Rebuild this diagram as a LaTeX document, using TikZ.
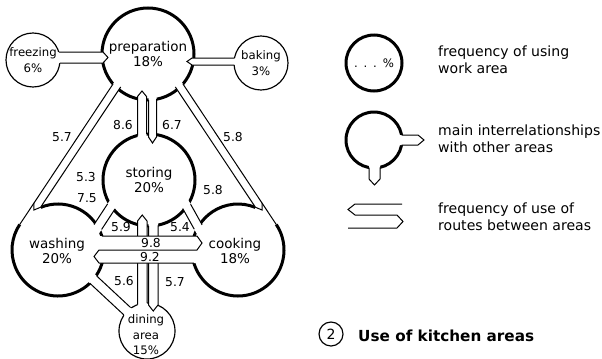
\documentclass[tikz,border=0pt]{standalone}
\usepackage{fontspec}
\setmainfont{DejaVu Sans}
\usetikzlibrary{calc}

\begin{document}
\begin{tikzpicture}[
      x=0.3mm, y=-0.3mm,
      area/.style={circle, draw, line width=0.9mm, minimum size=27.6mm, inner sep=0pt, align=center, font=\fontsize{11.5}{13.6}\selectfont},
      annex/.style={circle, draw, line width=0.35mm, minimum size=16.2mm, inner sep=0pt, align=center},
      lab/.style={align=center, inner sep=0pt, font=\fontsize{11.5}{13.6}\selectfont},
      small/.style={align=center, inner sep=0pt, font=\fontsize{10}{13.2}\selectfont},
      num/.style={inner sep=0pt, font=\fontsize{10.5}{12}\selectfont},
      key/.style={anchor=west, align=left, inner sep=0pt, font=\fontsize{12}{14.5}\selectfont},
      rim/.style={line width=0.9mm},
      route/.style={line width=0.3mm, line join=miter},
      gap/.style={fill=white}
  ]
    \useasboundingbox (0,0) rectangle (602,358);

    % work areas
    \node[area] (prep) at (148,54) {preparation\\18\%};
    \node[area] (store) at (149,180) {storing\\20\%};
    \node[annex] (freeze) at (33,60) {};
    \node[annex] (bake) at (261,63) {};
    \node[annex, minimum size=16.8mm] (dine) at (147,331) {};
    \coordinate (washc) at (58,250);
    \coordinate (cookc) at (238,250);
    \draw[rim] ($(washc)+(248:46)$) arc[start angle=248, end angle=573.7, radius=46];
    \draw[rim] ($(cookc)+(326.3:46)$) arc[start angle=326.3, end angle=652, radius=46];

    % preparation - washing / cooking
    \coordinate (pwA) at ($(prep)+(139.4:46)$);
    \coordinate (pwT) at ($(washc)+(213.7:46)$);
    \coordinate (pwB) at ($(pwA)+(123.65:142.8)$);
    \coordinate (pwC) at ($(pwB)+(33.65:8)$);
    \coordinate (pwP) at ($(pwB)+(33.65:4)+(123.65:6)$);
    \coordinate (pcA) at ($(prep)+(40.6:46)$);
    \coordinate (pcT) at ($(cookc)+(326.3:46)$);
    \coordinate (pcB) at ($(pcA)+(56.35:142.8)$);
    \coordinate (pcC) at ($(pcB)+(146.35:8)$);
    \coordinate (pcP) at ($(pcB)+(146.35:4)+(56.35:6)$);
    \fill[gap] ($(pwA)+(303.65:6)$) -- ($(pwA)+(303.65:6)+(33.65:8)$) -- (pwC) -- (pwP) -- (pwB) -- cycle;
    \fill[gap] ($(pcA)+(236.35:6)$) -- ($(pcA)+(236.35:6)+(146.35:8)$) -- (pcC) -- (pcP) -- (pcB) -- cycle;
    \draw[route] (pwA) -- (pwT);
    \draw[route] ($(pwA)+(33.65:8)+(303.65:1.7)$) -- (pwC) -- (pwP) -- (pwB);
    \draw[route] (pcA) -- (pcT);
    \draw[route] ($(pcA)+(146.35:8)+(236.35:1.7)$) -- (pcC) -- (pcP) -- (pcB);

    % freezing, baking - preparation
    \fill[gap] (52,52) -- (103,52) -- (108,57.5) -- (103,63) -- (52,63) -- cycle;
    \draw[route] (58.8,52) -- (103,52) -- (108,57.5) -- (103,63) -- (59.8,63);
    \fill[gap] (240,58) -- (192,58) -- (187,61.5) -- (192,65) -- (240,65) -- cycle;
    \draw[route] (234.6,58) -- (192,58) -- (187,61.5) -- (192,65) -- (234.3,65);

    % preparation - storing
    \fill[gap] (137.5,140) -- (137.5,96.5) -- (142,91) -- (146.5,96.5) -- (146.5,140) -- cycle;
    \draw[route] (137.5,135.5) -- (137.5,96.5) -- (142,91) -- (146.5,96.5) -- (146.5,134.2);
    \fill[gap] (148.5,95) -- (148.5,137) -- (152.5,143) -- (156.5,137) -- (156.5,95) -- cycle;
    \draw[route] (148.5,100) -- (148.5,137) -- (152.5,143) -- (156.5,137) -- (156.5,99.2);

    % storing - washing / cooking
    \coordinate (swS) at ($(store)+(145:46)$);
    \coordinate (swW) at ($(washc)+(330:46)$);
    \fill[gap] ($(swS)+(33.2:4.5)+(303.2:5)$) -- ($(swS)+(213.2:4.5)+(303.2:5)$) -- ($(swW)+(213.2:4.5)+(123.2:5)$) -- ($(swW)+(33.2:4.5)+(123.2:5)$) -- cycle;
    \draw[route] ($(swS)+(33.2:4.5)$) -- ($(swW)+(33.2:4.5)$);
    \draw[route] ($(swS)+(213.2:4.5)$) -- ($(swW)+(213.2:4.5)$);
    \coordinate (scS) at ($(store)+(35:46)$);
    \coordinate (scK) at ($(cookc)+(210:46)$);
    \fill[gap] ($(scS)+(150.8:4.5)+(240.8:5)$) -- ($(scS)+(330.8:4.5)+(240.8:5)$) -- ($(scK)+(330.8:4.5)+(60.8:5)$) -- ($(scK)+(150.8:4.5)+(60.8:5)$) -- cycle;
    \draw[route] ($(scS)+(150.8:4.5)$) -- ($(scK)+(150.8:4.5)$);
    \draw[route] ($(scS)+(330.8:4.5)$) -- ($(scK)+(330.8:4.5)$);

    % storing - dining area
    \fill[gap] (137.5,310) -- (137.5,221) -- (142.25,215) -- (147,221) -- (147,310) -- cycle;
    \draw[route] (137.5,304.7) -- (137.5,221) -- (142.25,215) -- (147,221) -- (147,303);
    \fill[gap] (148.5,220) -- (148.5,305) -- (153.25,311) -- (158,305) -- (158,220) -- cycle;
    \draw[route] (148.5,226) -- (148.5,305) -- (153.25,311) -- (158,305) -- (158,225.3);

    % washing - dining area
    \coordinate (wdW) at ($(washc)+(40:46)$);
    \coordinate (wdD) at ($(dine)+(225:28)$);
    \fill[gap] ($(wdW)+(132.9:5)+(222.9:5)$) -- ($(wdW)+(312.9:5)+(222.9:5)$) -- ($(wdD)+(312.9:5)+(42.9:5)$) -- ($(wdD)+(132.9:5)+(42.9:5)$) -- cycle;
    \draw[route] ($(wdW)+(132.9:5)$) -- ($(wdD)+(132.9:5)$);
    \draw[route] ($(wdW)+(312.9:5)$) -- ($(wdD)+(312.9:5)$);

    % washing - cooking
    \fill[gap] (96,236) -- (197,236) -- (202,243) -- (197,250) -- (96,250) -- cycle;
    \fill[gap] (99,250) -- (94,256.5) -- (99,263) -- (200,263) -- (200,250) -- cycle;
    \draw[route] (101.8,236) -- (197,236) -- (202,243) -- (197,250) -- (99,250) -- (94,256.5) -- (99,263) -- (193.9,263);

    % texts of the areas
    \node[lab] (wash) at (57,251) {washing\\20\%};
    \node[lab] (cook) at (235,251) {cooking\\18\%};
    \node[small] at (freeze) {freezing\\6\%};
    \node[small] at (bake) {baking\\3\%};
    \node[small] (dinetext) at (146,335) {dining\\area\\15\%};

    % route frequencies
    \node[num] (r1) at (62,137) {5.7};
    \node[num] (r2) at (123,125) {8.6};
    \node[num] (r3) at (172,125) {6.7};
    \node[num] (r4) at (233,137) {5.8};
    \node[num] (r5) at (86,177) {5.3};
    \node[num] (r6) at (87,198) {7.5};
    \node[num] (r7) at (213,190) {5.8};
    \node[num] (r8) at (121,227) {5.9};
    \node[num] (r9) at (180,227) {5.4};
    \node[num] (r10) at (151,243) {9.8};
    \node[num] (r11) at (150,257) {9.2};
    \node[num] (r12) at (124,281) {5.6};
    \node[num] (r13) at (175,282) {5.7};

    % key
    \node[area, minimum size=16.8mm, font=\fontsize{10}{12}\selectfont] (keyarea) at (374,63) {.\enspace.\enspace.\enspace\%};
    \node[area, minimum size=16.8mm] (keylink) at (374,140) {};
    \fill[gap] (396,135) -- (418,135) -- (424,140) -- (418,145) -- (396,145) -- cycle;
    \draw[route] (401.5,135) -- (418,135) -- (424,140) -- (418,145) -- (401.5,145);
    \fill[gap] (369,162) -- (369,179) -- (374.5,185) -- (380,179) -- (380,162) -- cycle;
    \draw[route] (369,167.5) -- (369,179) -- (374.5,185) -- (380,179) -- (380,167.4);
    \draw[route] (402,204) -- (355,204) -- (348,209.5) -- (355,215) -- (397,215) -- (403,221.5) -- (397,228) -- (348,228);
    \node[key] (k1) at (438,60) {frequency of using\\work area};
    \node[key] (k2) at (438,139) {main interrelationships\\with other areas};
    \node[key] (k3) at (438,217) {frequency of use of\\routes between areas};

    % caption
    \node[circle, draw, line width=0.35mm, minimum size=7.2mm, inner sep=0pt, font=\fontsize{12}{12}\selectfont] (fignum) at (331,334) {2};
    \node[anchor=west, inner sep=0pt, font=\bfseries\fontsize{13}{15}\selectfont] (caption) at (358,336) {Use of kitchen areas};
  \end{tikzpicture}
\end{document}
